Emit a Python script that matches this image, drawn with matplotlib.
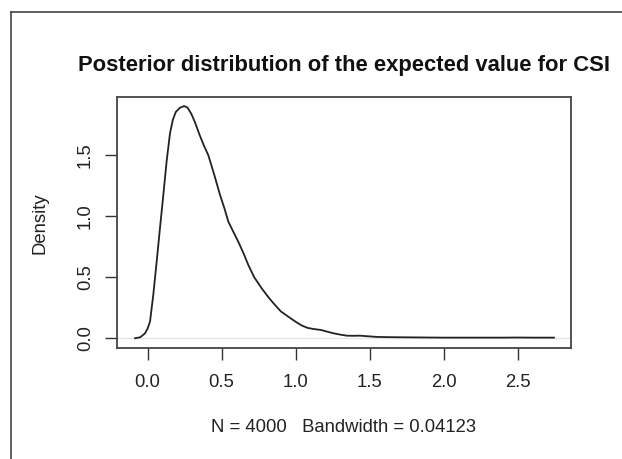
import matplotlib.pyplot as plt

plt.rcParams['font.family'] = ['Liberation Sans', 'DejaVu Sans']

# density curve
csi_x = [-0.085, -0.05, -0.018, 0.0, 0.016, 0.038, 0.061, 0.083, 0.106, 0.128,
         0.151, 0.17, 0.19, 0.218, 0.247, 0.27, 0.295, 0.32, 0.35, 0.38, 0.41,
         0.45, 0.489, 0.52, 0.545, 0.58, 0.612, 0.65, 0.68, 0.72, 0.77, 0.82,
         0.86, 0.9, 0.95, 1.0, 1.04, 1.08, 1.12, 1.17, 1.21, 1.254, 1.3, 1.345,
         1.39, 1.434, 1.49, 1.547, 1.62, 1.705, 1.8, 1.9, 2.0, 2.1, 2.2, 2.3,
         2.4, 2.5, 2.6, 2.745]
csi_y = [0.0, 0.008, 0.04, 0.08, 0.136, 0.355, 0.628, 0.9, 1.175, 1.448,
         1.68, 1.79, 1.855, 1.89, 1.904, 1.89, 1.84, 1.77, 1.67, 1.58, 1.5,
         1.34, 1.175, 1.06, 0.956, 0.87, 0.792, 0.69, 0.601, 0.5, 0.41, 0.33,
         0.273, 0.22, 0.177, 0.135, 0.105, 0.085, 0.076, 0.068, 0.055, 0.041,
         0.03, 0.021, 0.02, 0.021, 0.016, 0.011, 0.009, 0.008, 0.007, 0.006,
         0.005, 0.005, 0.005, 0.005, 0.005, 0.006, 0.005, 0.005]
x_ticks = [0.0, 0.5, 1.0, 1.5, 2.0, 2.5]
y_ticks = [0.0, 0.5, 1.0, 1.5]

W, H = 622, 459
fig = plt.figure(figsize=(W / 100, H / 100), dpi=100)

# outer frame (top and left edges only)
fig.add_artist(plt.Line2D([11 / W, 1], [1 - 12 / H, 1 - 12 / H], color='#444444', lw=1.2))
fig.add_artist(plt.Line2D([11 / W, 11 / W], [0, 1 - 12 / H], color='#444444', lw=1.2))

ax = fig.add_axes([117 / W, 1 - 348 / H, (571 - 117) / W, (348 - 97) / H])
ax.axhline(0, color='#e6e6e6', lw=1.0, zorder=1)
ax.plot(csi_x, csi_y, color='#222222', lw=1.3, zorder=2)

ax.set_xlim(-0.207, 2.86)
ax.set_ylim(-0.08, 1.978)
ax.set_xticks(x_ticks)
ax.set_xticklabels([f'{v:.1f}' for v in x_ticks])
ax.set_yticks(y_ticks)
ax.set_yticklabels([f'{v:.1f}' for v in y_ticks], rotation=90, va='center')
ax.tick_params(length=8.5, width=1.0, color='#333333', labelsize=13.3,
               labelcolor='#222222')
ax.tick_params(axis='x', pad=10)
ax.tick_params(axis='y', pad=8)
for s in ax.spines.values():
    s.set_color('#444444')
    s.set_linewidth(1.3)

fig.text(344 / W, 1 - 65 / H, 'Posterior distribution of the expected value for CSI',
         ha='center', va='center', fontsize=15.8, fontweight='bold', color='#111111')
fig.text(344 / W, 1 - 427 / H, 'N = 4000   Bandwidth = 0.04123',
         ha='center', va='center', fontsize=13.3, color='#222222')
fig.text(40 / W, 1 - 223 / H, 'Density', ha='center', va='center',
         rotation=90, fontsize=13.3, color='#222222')

fig.savefig('out.png', dpi=100)
